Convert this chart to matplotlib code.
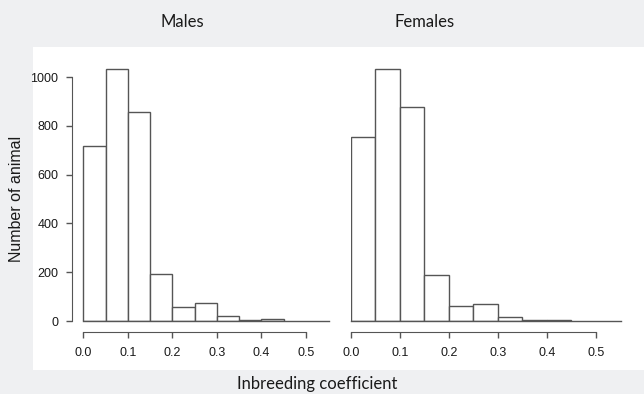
import numpy as np
import matplotlib
matplotlib.use('Agg')
import matplotlib.pyplot as plt
from matplotlib.patches import Rectangle

# histogram bins (inbreeding coefficient) and counts
bin_edges = [0.0, 0.05, 0.10, 0.15, 0.20, 0.25, 0.30, 0.35, 0.40, 0.45]
males = [717, 1031, 858, 191, 59, 72, 20, 3, 7]
females = [755, 1031, 878, 188, 63, 68, 18, 3, 3]
x_ticks = [0.0, 0.1, 0.2, 0.3, 0.4, 0.5]
y_ticks = [0, 200, 400, 600, 800, 1000]

W, H = 644, 394
BG = '#eff0f2'
EDGE = '#555555'
TXT = '#1a1a1a'

fig = plt.figure(figsize=(W / 100, H / 100), dpi=100, facecolor=BG)
# white panel behind the plots
fig.patches.append(Rectangle((32.5 / W, (H - 370) / H), 1 - 32.5 / W, (370 - 46.7) / H,
                             transform=fig.transFigure, facecolor='white',
                             edgecolor='none', zorder=-1))

y0_px = 321.0
px_per_unit = (321.0 - 77.0) / 1000.0
ytop = 1045
ax_h = ytop * px_per_unit


def make_axes(left_px, right_px):
    ax = fig.add_axes([left_px / W, (H - y0_px) / H,
                       (right_px - left_px) / W, ax_h / H])
    ax.set_zorder(2)
    return ax


tick_font = dict(family=['Liberation Sans Narrow', 'Liberation Sans'], size=9)


def draw_hist(ax, counts, xmin, xmax, show_y):
    lefts = np.array(bin_edges[:-1])
    widths = np.diff(bin_edges)
    ax.bar(lefts, counts, width=widths, align='edge', facecolor='white',
           edgecolor=EDGE, linewidth=1.0, zorder=2)
    ax.plot([0.0, xmax], [0, 0], color=EDGE, lw=1.0, zorder=3, clip_on=False)
    ax.set_xlim(xmin, xmax)
    ax.set_ylim(0, ytop)
    ax.set_facecolor('none')
    for s in ['top', 'right']:
        ax.spines[s].set_visible(False)
    ax.spines['bottom'].set_position(('outward', 8))
    ax.spines['bottom'].set_bounds(0.0, 0.5)
    ax.spines['bottom'].set_color(EDGE)
    ax.set_xticks(x_ticks)
    ax.set_xticklabels([f'{t:.1f}' for t in x_ticks], fontdict=tick_font, color=TXT)
    ax.tick_params(axis='x', length=4.5, width=1.0, color=EDGE, pad=6.5)
    if show_y:
        ax.spines['left'].set_bounds(0, 1000)
        ax.spines['left'].set_color(EDGE)
        ax.set_yticks(y_ticks)
        ax.set_yticklabels([str(t) for t in y_ticks], fontdict=tick_font, color=TXT)
        ax.tick_params(axis='y', length=4, width=1.0, color=EDGE, pad=6)
    else:
        ax.spines['left'].set_visible(False)
        ax.set_yticks([])


# left panel: 0.0 at x=83.3px, 0.5 at x=306px
sx_l = (306.0 - 83.3) / 0.5
ax1 = make_axes(72.3, 329.0)
draw_hist(ax1, males, (72.3 - 83.3) / sx_l, (329.0 - 83.3) / sx_l, True)

# right panel: 0.0 at x=350.7px, 0.5 at x=595.7px
sx_r = (595.7 - 350.7) / 0.5
ax2 = make_axes(350.7, 621.0)
draw_hist(ax2, females, 0.0, (621.0 - 350.7) / sx_r, False)

title_font = dict(family=['Lato', 'DejaVu Sans'], size=12, color=TXT)
fig.text(182 / W, 1 - 22 / H, 'Males', ha='center', va='center', **title_font)
fig.text(425 / W, 1 - 22 / H, 'Females', ha='center', va='center', **title_font)
fig.text(317 / W, 1 - 384 / H, 'Inbreeding coefficient', ha='center', va='center',
         **title_font)
fig.text(17 / W, 1 - 199 / H, 'Number of animal', ha='center', va='center',
         rotation=90, family=['Liberation Sans', 'DejaVu Sans'], size=11.5, color=TXT)

fig.savefig('out.png', dpi=100, facecolor=BG)
